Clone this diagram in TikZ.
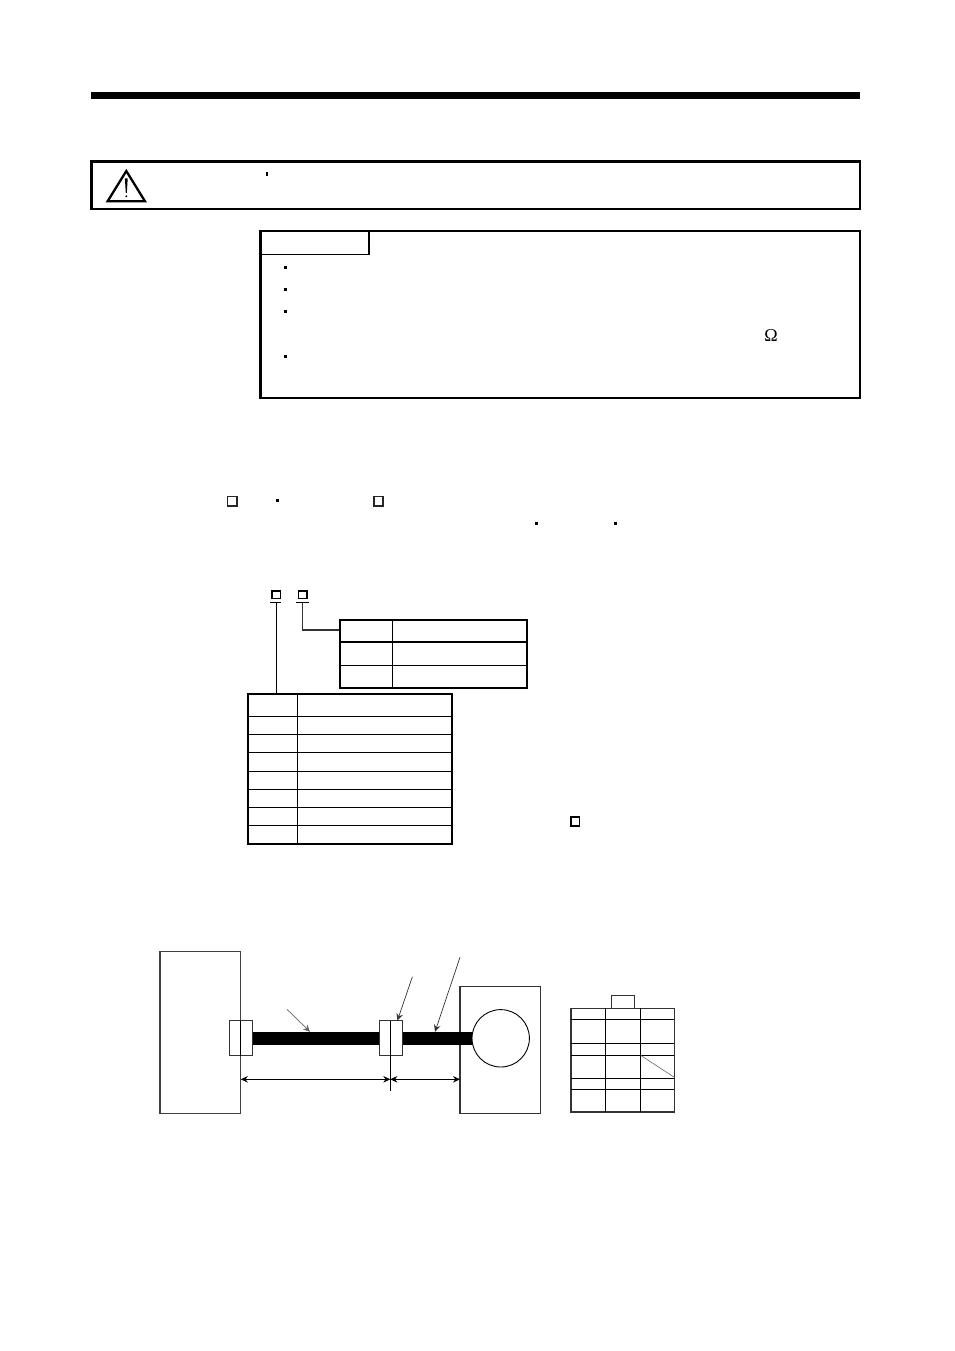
\documentclass[tikz,border=0pt]{standalone}
\usepackage{fontspec}
\setmainfont{Liberation Serif}
\usetikzlibrary{arrows.meta}
\tikzset{
  thinln/.style={line width=1pt,black},
  medln/.style={line width=1.1pt,black},
  heavyln/.style={line width=2.4pt,black},
  dot/.style={fill=black,draw=none},
  sqbox/.style={draw=black,line width=1.5pt,fill=white},
  arw/.style={-{Stealth[length=7pt,width=6.5pt]},line width=0.7pt},
  dimarw/.style={{Stealth[length=7pt,width=6.5pt]}-{Stealth[length=7pt,width=6.5pt]},line width=0.8pt}
}
\newcommand{\bul}[2]{\fill[dot] (#1-1.5,#2-1.5) rectangle (#1+1.5,#2+1.5);}
\begin{document}
\begin{tikzpicture}[x=1pt,y=-1pt]
\useasboundingbox[fill=white] (0,0) rectangle (954,1351);
% top rule
\fill (91,92) rectangle (859.5,99);
% caution box
\draw[heavyln] (91.5,161.5) rectangle (860,209);
\draw[line width=2.3pt,line join=miter] (126.3,171) -- (145,201.3) -- (107.6,201.3) -- cycle;
\fill (126.3,178.5) -- (127.7,178.5) -- (126.8,193) -- (125.8,193) -- (124.9,178.5) -- cycle;
\fill (126.3,196.3) circle (1.1);
\fill[dot] (266.3,172.3) rectangle (268,175.7);
% note box
\draw[heavyln] (260.5,231) rectangle (860,398);
\draw[line width=1.3pt] (369,231) -- (369,254.3) -- (260.5,254.3);
\bul{285}{267}\bul{285}{289.5}\bul{285}{311.5}\bul{285}{356.5}
\node[inner sep=0pt,font=\fontsize{18}{18}\selectfont] (omega) at (771,336) {Ω};
% text squares
\draw[line width=1.7pt,black!85] (227.5,496.5) rectangle (236.8,505.8);
\draw[line width=1.7pt,black!85] (374,496.5) rectangle (383.3,505.8);
\bul{277.5}{500.3}\bul{536.3}{523}\bul{615.3}{523}
% designation
\draw[sqbox] (271.8,591) rectangle (280.3,598.6);
\draw[sqbox] (298.7,591) rectangle (306.8,598.6);
\draw[medln] (270,602.5) -- (281,602.5);
\draw[medln] (296,602.5) -- (309,602.5);
\coordinate (t1w) at (340,630);
\coordinate (t2n) at (276.3,693.5);
\draw[medln] (276.3,602.5) -- (t2n);
\draw[line width=1.2pt,black!80] (302.3,602.5) -- (302.3,630) -- (t1w);
% table 1
\draw[line width=1.9pt] (340.3,619.8) rectangle (527,687.6);
\draw[line width=1.2pt] (392.5,619.8) -- (392.5,687.6);
\draw[line width=1.8pt] (340.3,642) -- (527,642);
\draw[thinln] (340.3,665.3) -- (527,665.3);
% table 2
\draw[line width=1.9pt] (248,694) rectangle (451.8,843.8);
\draw[medln] (297.5,694) -- (297.5,843.8);
\foreach \r in {716.4,734.4,752.4,771.4,789.4,807.4,825.4}
  \draw[medln] (248,\r) -- (451.8,\r);
\draw[sqbox] (571.2,817.2) rectangle (579.5,825.8);
% system diagram
\draw[line width=1.2pt,black!75] (160,951.8) rectangle (240.8,1113.3);
\draw[line width=1.2pt,black!80] (460,986.8) rectangle (540.8,1113.3);
\fill (252,1032) rectangle (380,1044.8);
\fill (402,1032) rectangle (475,1044.8);
\draw[line width=0.9pt,black!80] (229.5,1020.8) rectangle (252.3,1055.8);
\draw[line width=0.9pt] (240.8,1020.8) -- (240.8,1055.8);
\draw[line width=0.9pt,black!80,fill=white] (379.5,1020.8) rectangle (402.3,1055.8);
\draw[line width=0.9pt] (390.3,1020.8) -- (390.3,1090.8);
\draw[line width=0.9pt,fill=white] (500.7,1038.3) circle (28.7);
\draw[dimarw] (240.8,1079.3) -- (390.3,1079.3);
\draw[dimarw] (390.3,1079.3) -- (460,1079.3);
\draw[arw,black!60] (287,1009.3) -- (310,1031.8);
\draw[arw,black!80] (412.4,976.7) -- (397.4,1020.6);
\draw[arw,black!80] (460,957.3) -- (435,1031.8);
% connector face
\draw[line width=1.3pt,black!80] (611.3,1008.3) -- (611.3,995.5) -- (634.3,995.5) -- (634.3,1008.3);
\draw[line width=1.4pt,black!80] (571,1008.3) rectangle (674.3,1112);
\foreach \c in {605.3,640.3} \draw[medln] (\c,1008.3) -- (\c,1112);
\foreach \r in {1019.5,1043.5,1055.5,1078.5,1089.5} \draw[medln] (571,\r) -- (674.3,\r);
\draw[line width=0.6pt,black!60] (641,1055.5) -- (674.3,1077.3);
\end{tikzpicture}
\end{document}
